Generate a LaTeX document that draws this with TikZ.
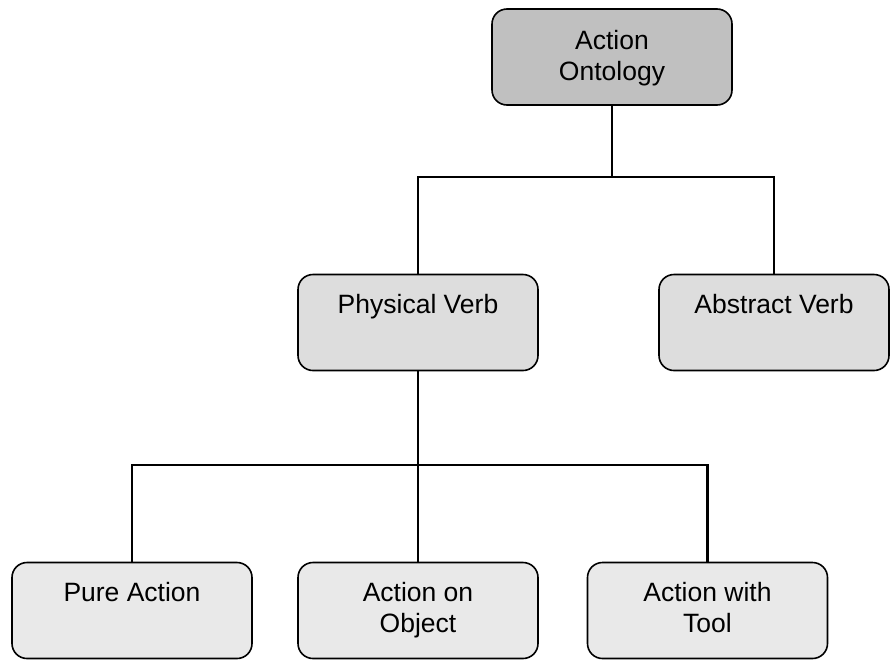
\documentclass[tikz,border=0pt]{standalone}
\usepackage{fontspec}
\setmainfont{Liberation Sans}
\tikzset{
  box/.style={draw=black, line width=1.6pt, rounded corners=15pt,
    minimum width=240pt, minimum height=96pt, inner sep=0pt},
  rootbox/.style={box, fill=rootgray},
  midbox/.style={box, fill=midgray},
  leafbox/.style={box, fill=leafgray},
  lbl/.style={anchor=base, inner sep=0pt,
    font=\fontsize{26.5pt}{31pt}\selectfont},
  conn/.style={draw=black, line width=2.2pt}
}
\definecolor{rootgray}{RGB}{192,192,192}
\definecolor{midgray}{RGB}{221,221,221}
\definecolor{leafgray}{RGB}{233,233,233}
\newcommand{\boxtext}[1]{\parbox[t]{230pt}{\centering #1}}
\begin{document}
\begin{tikzpicture}[x=1pt, y=-1pt]
  \useasboundingbox (0,0) rectangle (890,659);

  % boxes
  \node[rootbox] (root) at (612,57)    {};
  \node[midbox]  (pv)   at (418,322.5) {};
  \node[midbox, minimum width=230pt] (av) at (774,322.5) {};
  \node[leafbox] (pa)   at (132,610.5) {};
  \node[leafbox] (ao)   at (418,610.5) {};
  \node[leafbox] (at)   at (707.5,610.5) {};

  % labels, first baseline about 40pt below each box top
  \node[lbl] (rootlbl) at ([yshift=-41pt]root.north) {\boxtext{Action\\Ontology}};
  \node[lbl] (pvlbl)   at ([yshift=-40pt]pv.north)   {\boxtext{Physical Verb}};
  \node[lbl] (avlbl)   at ([yshift=-40pt]av.north)   {\boxtext{Abstract Verb}};
  \node[lbl] (palbl)   at ([yshift=-40pt]pa.north)   {\boxtext{Pure Action}};
  \node[lbl] (aolbl)   at ([yshift=-40pt]ao.north)   {\boxtext{Action on\\Object}};
  \node[lbl] (atlbl)   at ([yshift=-40pt]at.north)   {\boxtext{Action with\\Tool}};

  % connectors
  \coordinate (j1) at (612,177);
  \coordinate (j2) at (418,465);
  \draw[conn] (root.south) -- (j1);
  \draw[conn] (pv.north) |- (j1) -| (av.north);
  \draw[conn] (pv.south) -- (ao.north);
  \draw[conn] (pa.north) |- (j2) -| (at.north);
\end{tikzpicture}
\end{document}
